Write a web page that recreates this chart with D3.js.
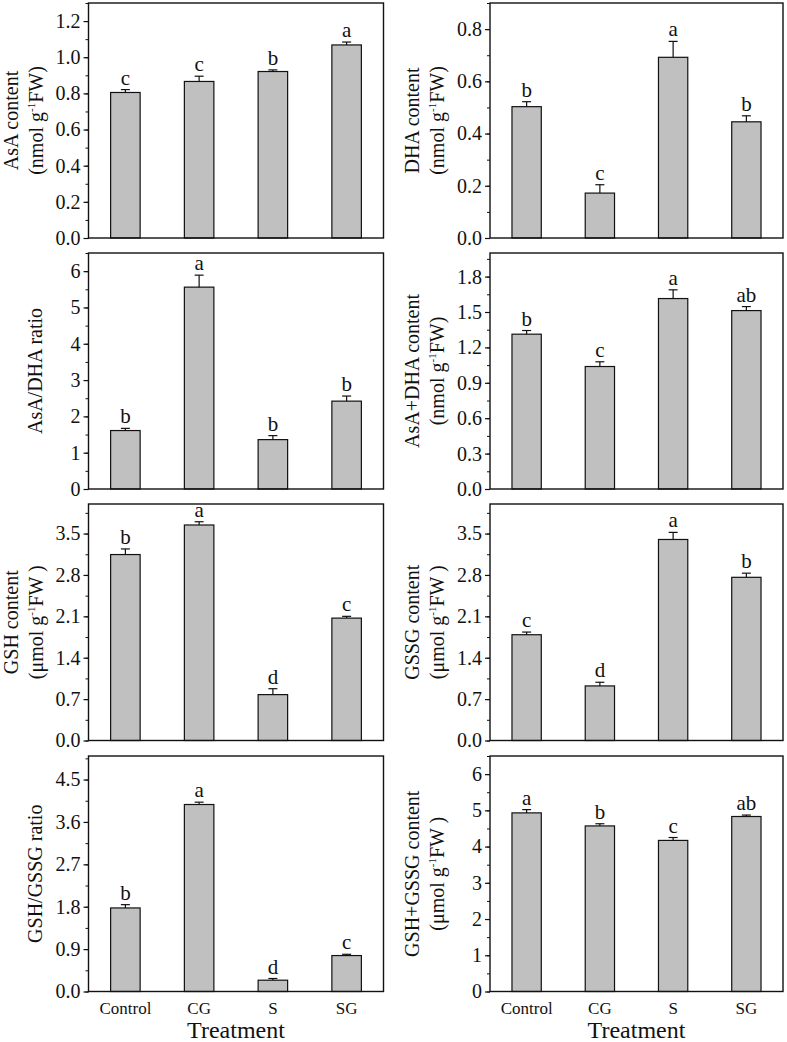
<!DOCTYPE html>
<html><head><meta charset="utf-8">
<script src="https://cdn.jsdelivr.net/npm/d3@7"></script>
<style>body{margin:0;background:#fff}svg{display:block}text{font-family:"Liberation Serif","Times New Roman",serif;fill:#111}</style>
</head><body>
<script>
const categories = ["Control","CG","S","SG"];

const asaValues = [0.805, 0.866, 0.921, 1.068];
const asaErrors = [0.016, 0.029, 0.009, 0.016];
const asaLetters = ["c","c","b","a"];

const dhaValues = [0.503, 0.172, 0.692, 0.445];
const dhaErrors = [0.019, 0.032, 0.061, 0.023];
const dhaLetters = ["b","c","a","b"];

const asaDhaRatioValues = [1.61, 5.56, 1.36, 2.42];
const asaDhaRatioErrors = [0.06, 0.33, 0.11, 0.14];
const asaDhaRatioLetters = ["b","a","b","b"];

const asaPlusDhaValues = [1.312, 1.038, 1.614, 1.512];
const asaPlusDhaErrors = [0.031, 0.040, 0.074, 0.034];
const asaPlusDhaLetters = ["b","c","a","ab"];

const gshValues = [3.145, 3.645, 0.776, 2.07];
const gshErrors = [0.095, 0.055, 0.10, 0.03];
const gshLetters = ["b","a","d","c"];

const gssgValues = [1.789, 0.923, 3.40, 2.76];
const gssgErrors = [0.045, 0.062, 0.12, 0.07];
const gssgLetters = ["c","d","a","b"];

const gshGssgRatioValues = [1.774, 3.97, 0.24, 0.763];
const gshGssgRatioErrors = [0.07, 0.05, 0.036, 0.027];
const gshGssgRatioLetters = ["b","a","d","c"];

const gshPlusGssgValues = [4.93, 4.57, 4.17, 4.83];
const gshPlusGssgErrors = [0.09, 0.06, 0.08, 0.04];
const gshPlusGssgLetters = ["a","b","c","ab"];

const panels = [
  {vals: asaValues, errs: asaErrors, letters: asaLetters, max: 1.3, step: 0.2, dec: 1, label: ["AsA content", "(nmol g", "FW)"]},
  {vals: dhaValues, errs: dhaErrors, letters: dhaLetters, max: 0.9, step: 0.2, dec: 1, label: ["DHA content", "(nmol g", "FW)"]},
  {vals: asaDhaRatioValues, errs: asaDhaRatioErrors, letters: asaDhaRatioLetters, max: 6.5, step: 1, dec: 0, label: ["AsA/DHA ratio"]},
  {vals: asaPlusDhaValues, errs: asaPlusDhaErrors, letters: asaPlusDhaLetters, max: 2.0, step: 0.3, dec: 1, label: ["AsA+DHA content", "(nmol g", "FW)"]},
  {vals: gshValues, errs: gshErrors, letters: gshLetters, max: 4.0, step: 0.7, dec: 1, label: ["GSH content", "(\u03bcmol g", "FW )"]},
  {vals: gssgValues, errs: gssgErrors, letters: gssgLetters, max: 4.0, step: 0.7, dec: 1, label: ["GSSG content", "(\u03bcmol g", "FW )"]},
  {vals: gshGssgRatioValues, errs: gshGssgRatioErrors, letters: gshGssgRatioLetters, max: 5.0, step: 0.9, dec: 1, label: ["GSH/GSSG ratio"]},
  {vals: gshPlusGssgValues, errs: gshPlusGssgErrors, letters: gshPlusGssgLetters, max: 6.5, step: 1, dec: 0, label: ["GSH+GSSG content", "(\u03bcmol g", "FW )"]}
];

const W = 787, H = 1042;
const cols = [[88.5, 383.5], [490, 783]];
const rows = [[3, 238], [253, 489], [504, 740.5], [756, 991.5]];

const svg = d3.select("body").append("svg").attr("width", W).attr("height", H);

panels.forEach((p, i) => {
  const c = cols[i % 2], r = rows[Math.floor(i / 2)];
  const x = d3.scaleBand().domain(categories).range(c).paddingInner(0.6).paddingOuter(0.3);
  const y = d3.scaleLinear().domain([0, p.max]).range([r[1], r[0]]);
  const g = svg.append("g");

  const nMajor = Math.floor(p.max / p.step + 1e-9);
  const majors = d3.range(0, nMajor + 1).map(k => +(k * p.step).toFixed(4));
  const minors = d3.range(0, 2 * nMajor + 2).map(k => +(k * p.step / 2).toFixed(4)).filter(v => v <= p.max + 1e-9);

  g.append("g").attr("transform", `translate(${c[0]},0)`)
    .call(d3.axisLeft(y).tickValues(minors).tickSize(3).tickFormat(""))
    .call(s => s.select(".domain").remove())
    .call(s => s.selectAll("line").attr("stroke", "#111").attr("stroke-width", 1));
  g.append("g").attr("transform", `translate(${c[0]},0)`)
    .call(d3.axisLeft(y).tickValues(majors).tickSize(5).tickPadding(3).tickFormat(d3.format(`.${p.dec}f`)))
    .call(s => s.select(".domain").remove())
    .call(s => s.selectAll("line").attr("stroke", "#111").attr("stroke-width", 1.2))
    .call(s => s.selectAll("text").attr("font-size", 20).attr("fill", "#111")
      .style("font-family", '"Liberation Serif", serif'));

  g.selectAll("rect.bar").data(p.vals).join("rect").attr("class", "bar")
    .attr("x", (d, k) => x(categories[k])).attr("width", x.bandwidth())
    .attr("y", d => y(d)).attr("height", d => y(0) - y(d))
    .attr("fill", "#c0c0c0").attr("stroke", "#111").attr("stroke-width", 1.2);

  p.vals.forEach((v, k) => {
    const cx = x(categories[k]) + x.bandwidth() / 2;
    const top = y(v + p.errs[k]);
    g.append("line").attr("x1", cx).attr("x2", cx).attr("y1", y(v)).attr("y2", top)
      .attr("stroke", "#111").attr("stroke-width", 1.2);
    g.append("line").attr("x1", cx - 4.5).attr("x2", cx + 4.5).attr("y1", top).attr("y2", top)
      .attr("stroke", "#111").attr("stroke-width", 1.2);
    g.append("text").attr("x", cx).attr("y", top - 5).attr("text-anchor", "middle")
      .attr("font-size", 21).text(p.letters[k]);
  });

  g.append("rect").attr("x", c[0]).attr("y", r[0]).attr("width", c[1] - c[0]).attr("height", r[1] - r[0])
    .attr("fill", "none").attr("stroke", "#111").attr("stroke-width", 1.4);

  const cy = (r[0] + r[1]) / 2;
  const lx = i % 2 === 0 ? 0 : 401;
  if (p.label.length === 1) {
    svg.append("text").attr("transform", `translate(${lx + 42},${cy}) rotate(-90)`)
      .attr("text-anchor", "middle").attr("font-size", 20).text(p.label[0]);
  } else {
    svg.append("text").attr("transform", `translate(${lx + 18},${cy}) rotate(-90)`)
      .attr("text-anchor", "middle").attr("font-size", 20).text(p.label[0]);
    const t = svg.append("text").attr("transform", `translate(${lx + 43},${cy}) rotate(-90)`)
      .attr("text-anchor", "middle").attr("font-size", 20);
    t.append("tspan").text(p.label[1]);
    t.append("tspan").attr("font-size", 11).attr("dy", -8).text("-1");
    t.append("tspan").attr("dy", 8).text(p.label[2]);
  }

  if (Math.floor(i / 2) === 3) {
    svg.append("g").attr("transform", `translate(0,${r[1]})`)
      .call(d3.axisBottom(x).tickSize(0).tickPadding(10))
      .call(s => s.select(".domain").remove())
      .call(s => s.selectAll("text").attr("font-size", 17).attr("fill", "#111")
        .style("font-family", '"Liberation Serif", serif'));
    svg.append("text").attr("x", (c[0] + c[1]) / 2).attr("y", 1038).attr("text-anchor", "middle")
      .attr("font-size", 24).text("Treatment");
  }
});
</script>
</body></html>
